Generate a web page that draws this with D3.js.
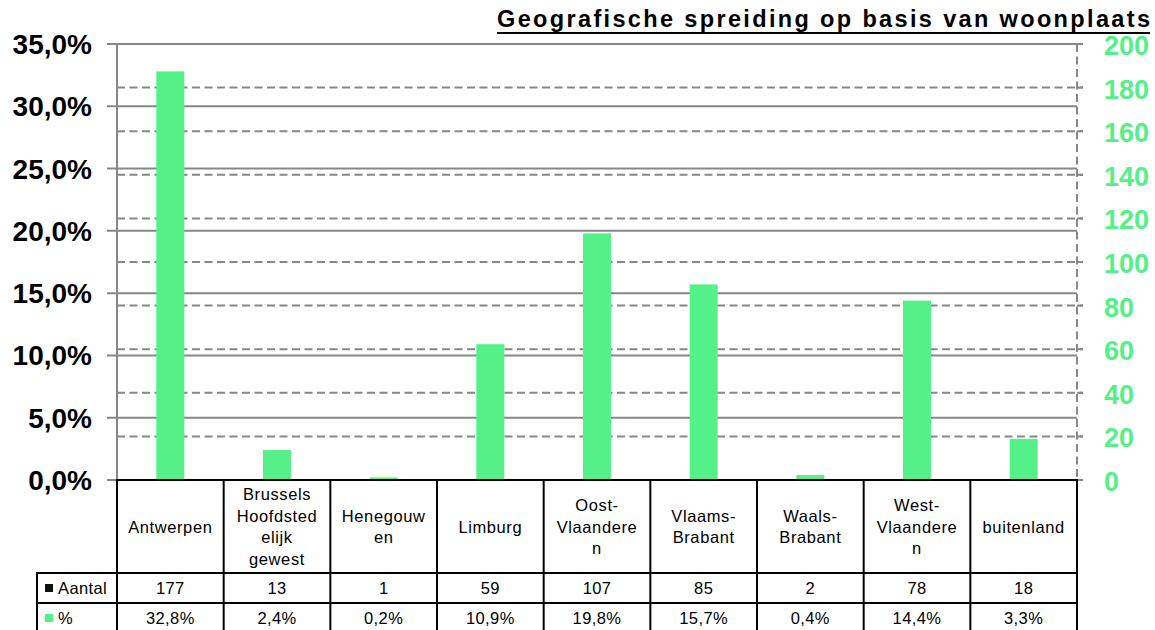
<!DOCTYPE html>
<html>
<head>
<meta charset="utf-8">
<script src="https://cdn.jsdelivr.net/npm/d3@7"></script>
<style>
  body { margin: 0; background: #fff; }
  svg { display: block; font-family: "Liberation Sans", Arial, sans-serif; }
</style>
</head>
<body>
<svg id="chart" width="1155" height="630"></svg>
<script>
// data
const categories = ["Antwerpen", "Brussels Hoofdstedelijk gewest", "Henegouwen", "Limburg",
  "Oost-Vlaanderen", "Vlaams-Brabant", "Waals-Brabant", "West-Vlaanderen", "buitenland"];
const catLines = [["Antwerpen"], ["Brussels", "Hoofdsted", "elijk", "gewest"], ["Henegouw", "en"],
  ["Limburg"], ["Oost-", "Vlaandere", "n"], ["Vlaams-", "Brabant"], ["Waals-", "Brabant"],
  ["West-", "Vlaandere", "n"], ["buitenland"]];
const aantal = [177, 13, 1, 59, 107, 85, 2, 78, 18];
const pct = [32.8, 2.4, 0.2, 10.9, 19.8, 15.7, 0.4, 14.4, 3.3];
const pctTicks = [0, 5, 10, 15, 20, 25, 30, 35];
const cntTicks = [0, 20, 40, 60, 80, 100, 120, 140, 160, 180, 200];
const title = "Geografische spreiding op basis van woonplaats";

const green = "#55F088";
const grid = "#878787";

const svg = d3.select("#chart");
const plotL = 117, plotR = 1077, plotT = 44, plotB = 480;
const headBottom = 573, rowH = 30, legendLeft = 37;

const x = d3.scaleBand().domain(categories).range([plotL, plotR]);
const yPct = d3.scaleLinear().domain([0, 35]).range([plotB, plotT]);
const yCnt = d3.scaleLinear().domain([0, 200]).range([plotB, plotT]);

const fmt = v => d3.format(".1f")(v).replace(".", ",");

// dashed gridlines (right axis)
svg.append("g")
  .selectAll("line")
  .data(cntTicks)
  .enter()
  .append("line")
  .attr("x1", plotL).attr("x2", plotR + 6)
  .attr("y1", d => yCnt(d)).attr("y2", d => yCnt(d))
  .attr("stroke", grid).attr("stroke-width", 2)
  .attr("stroke-dasharray", "8,4.5");

// solid gridlines (left axis)
svg.append("g")
  .selectAll("line")
  .data(pctTicks)
  .enter()
  .append("line")
  .attr("x1", plotL - 10).attr("x2", plotR)
  .attr("y1", d => yPct(d)).attr("y2", d => yPct(d))
  .attr("stroke", grid).attr("stroke-width", 2);

// axis lines
svg.append("line")
  .attr("x1", plotL).attr("x2", plotL).attr("y1", plotT).attr("y2", plotB)
  .attr("stroke", grid).attr("stroke-width", 2);
svg.append("line")
  .attr("x1", plotR).attr("x2", plotR).attr("y1", plotT).attr("y2", plotB)
  .attr("stroke", grid).attr("stroke-width", 2).attr("stroke-dasharray", "8,4.5");
svg.append("g")
  .selectAll("line")
  .data(cntTicks)
  .enter()
  .append("line")
  .attr("x1", plotR).attr("x2", plotR + 6)
  .attr("y1", d => yCnt(d)).attr("y2", d => yCnt(d))
  .attr("stroke", grid).attr("stroke-width", 2);

// bars
const barW = 28;
svg.append("g")
  .selectAll("rect")
  .data(pct)
  .enter()
  .append("rect")
  .attr("x", (d, i) => x(categories[i]) + x.bandwidth() / 2 - barW / 2)
  .attr("width", barW)
  .attr("y", d => yPct(d))
  .attr("height", d => plotB - yPct(d))
  .attr("fill", green);

// left axis labels
svg.append("g")
  .selectAll("text")
  .data(pctTicks)
  .enter()
  .append("text")
  .attr("x", 92)
  .attr("y", d => yPct(d) + 10)
  .attr("text-anchor", "end")
  .attr("font-size", 28)
  .attr("font-weight", "bold")
  .attr("fill", "#000")
  .text(d => fmt(d) + "%");

// right axis labels
svg.append("g")
  .selectAll("text")
  .data(cntTicks)
  .enter()
  .append("text")
  .attr("x", 1104)
  .attr("y", d => yCnt(d) + 11)
  .attr("font-size", 27)
  .attr("font-weight", "bold")
  .attr("fill", green)
  .text(d => d);

// title
svg.append("text")
  .attr("x", 1150).attr("y", 27)
  .attr("text-anchor", "end")
  .attr("font-size", 23.5)
  .attr("font-weight", "bold")
  .attr("textLength", 653)
  .attr("lengthAdjust", "spacing")
  .text(title);
svg.append("line")
  .attr("x1", 497).attr("x2", 1150).attr("y1", 33).attr("y2", 33)
  .attr("stroke", "#000").attr("stroke-width", 2);

// data table
const tbl = svg.append("g");
const edges = categories.map(c => x(c)).concat([plotR]);
tbl.selectAll("line.v")
  .data(edges)
  .enter()
  .append("line")
  .attr("x1", d => d).attr("x2", d => d)
  .attr("y1", plotB).attr("y2", 640)
  .attr("stroke", "#000").attr("stroke-width", 2);
tbl.append("line")
  .attr("x1", legendLeft).attr("x2", legendLeft)
  .attr("y1", headBottom).attr("y2", 640)
  .attr("stroke", "#000").attr("stroke-width", 2);
tbl.append("line")
  .attr("x1", plotL - 1).attr("x2", plotR + 1).attr("y1", plotB).attr("y2", plotB)
  .attr("stroke", "#000").attr("stroke-width", 2);
[headBottom, headBottom + rowH].forEach(yy => {
  tbl.append("line")
    .attr("x1", legendLeft - 1).attr("x2", plotR + 1).attr("y1", yy).attr("y2", yy)
    .attr("stroke", "#000").attr("stroke-width", 2);
});

// header labels
const lineH = 21.5;
const headMid = (plotB + headBottom) / 2;
catLines.forEach((lines, i) => {
  const cx = x(categories[i]) + x.bandwidth() / 2;
  const y0 = headMid - (lines.length - 1) * lineH / 2 + 6;
  lines.forEach((ln, j) => {
    tbl.append("text")
      .attr("x", cx).attr("y", y0 + j * lineH)
      .attr("text-anchor", "middle")
      .attr("font-size", 16.5)
      .attr("letter-spacing", 0.6)
      .text(ln);
  });
});

// value rows
const rows = [
  { name: "Aantal", color: "#111", vals: aantal.map(String) },
  { name: "%", color: green, vals: pct.map(v => fmt(v) + "%") }
];
rows.forEach((r, k) => {
  const yc = headBottom + rowH * k + rowH / 2;
  tbl.append("rect")
    .attr("x", 45).attr("y", yc - 4).attr("width", 8).attr("height", 8)
    .attr("fill", r.color);
  tbl.append("text")
    .attr("x", 58).attr("y", yc + 6)
    .attr("font-size", 16.5)
    .attr("letter-spacing", 0.4)
    .text(r.name);
  r.vals.forEach((v, i) => {
    tbl.append("text")
      .attr("x", x(categories[i]) + x.bandwidth() / 2)
      .attr("y", yc + 6)
      .attr("text-anchor", "middle")
      .attr("font-size", 16.5)
      .attr("letter-spacing", 0.4)
      .text(v);
  });
});
</script>
</body>
</html>
